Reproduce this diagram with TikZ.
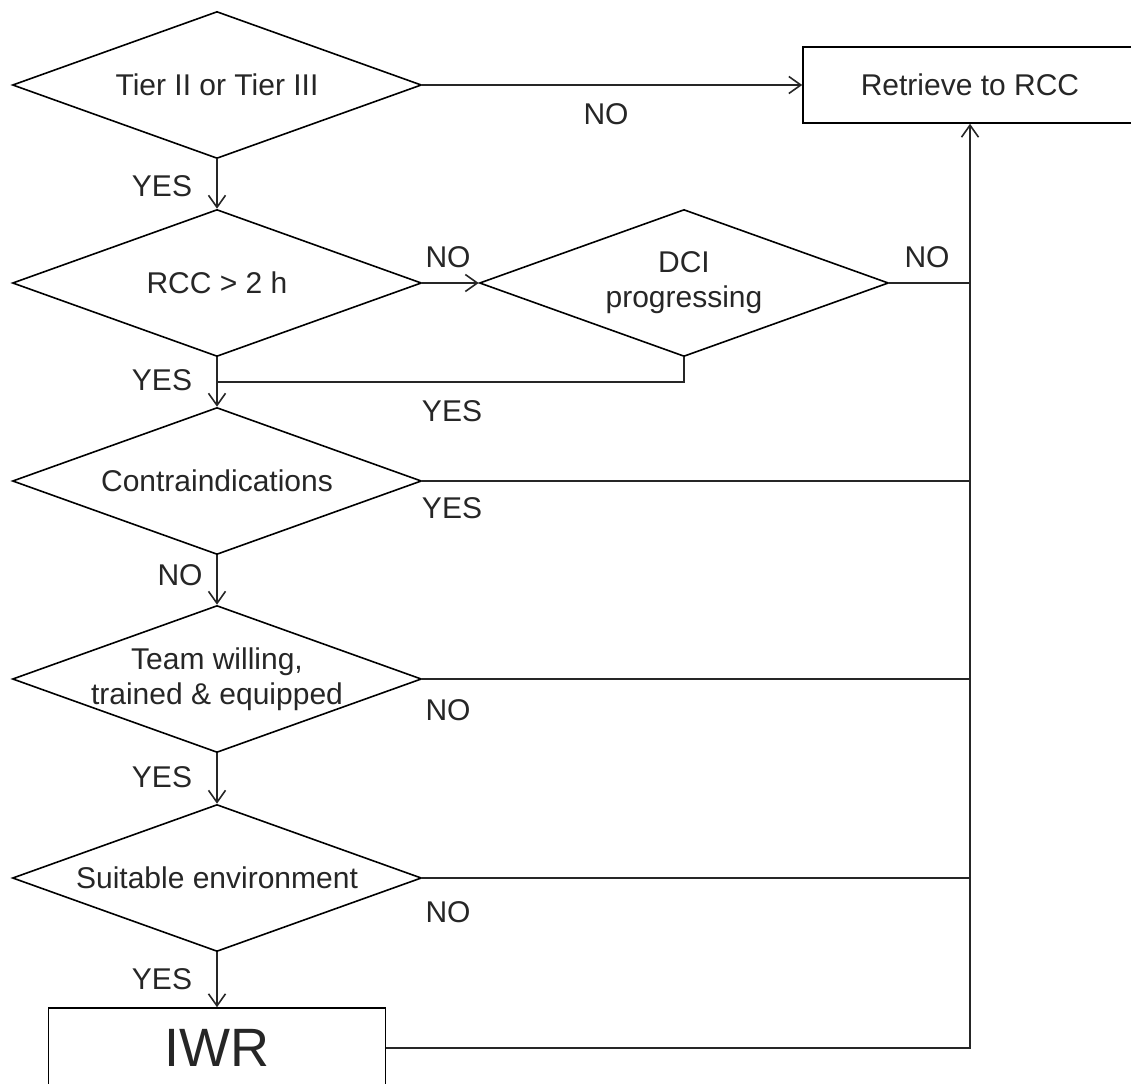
\documentclass[tikz,border=0pt]{standalone}
\usepackage{fontspec}
\setmainfont{Liberation Sans}
\usetikzlibrary{shapes.geometric,arrows.meta}
\begin{document}
\begin{tikzpicture}[x=1pt,y=-1pt,
  every node/.style={font=\fontsize{30}{35}\selectfont, text=black!85},
  dia/.style={draw, diamond, inner sep=0pt, aspect=2.8, minimum width=409pt, minimum height=147pt, align=center, line width=1.6pt},
  procbox/.style={draw, rectangle, inner sep=0pt, line width=1.6pt, align=center},
  conn/.style={line width=1.6pt, draw=black!85},
  arr/.style={conn, -{Straight Barb[length=12pt,width=17pt,line width=1.6pt]}},
  lab/.style={inner sep=0pt}
]
\useasboundingbox (0,0) rectangle (1131,1083);
\clip (0,0) rectangle (1131,1083);

% decision and process nodes
\node[dia] (d1) at (217,85) {Tier II or Tier III};
\node[procbox, minimum width=334pt, minimum height=76pt] (rcc) at (970,85) {Retrieve to RCC};
\node[dia] (d2) at (217,283) {RCC > 2 h};
\node[dia] (dci) at (684,283) {DCI\\progressing};
\node[dia] (d3) at (217,481) {Contraindications};
\node[dia] (d4) at (217,679) {\makebox[0pt]{Team willing,}\\\makebox[0pt]{trained \& equipped}};
\node[dia] (d5) at (217,878) {Suitable environment};
\node[procbox, minimum width=337pt, minimum height=80pt, font=\fontsize{54}{60}\selectfont] (iwr) at (217,1048) {IWR};

% helper coordinates
\coordinate (j) at (217,382);
\coordinate (tb) at (970,1048);

% main flow
\draw[arr] (d1.east) -- (rcc.west);
\draw[arr] (d1.south) -- (d2.north);
\draw[arr] (d2.east) -- (dci.west);
\draw[arr] (d2.south) -- (d3.north);
\draw[conn] (dci.south) |- (j);
\draw[arr] (d3.south) -- (d4.north);
\draw[arr] (d4.south) -- (d5.north);
\draw[arr] (d5.south) -- (iwr.north);

% trunk back to RCC
\draw[arr] (iwr.east) -- (tb) -- (rcc.south);
\draw[conn] (dci.east) -- (dci.east -| tb);
\draw[conn] (d3.east) -- (d3.east -| tb);
\draw[conn] (d4.east) -- (d4.east -| tb);
\draw[conn] (d5.east) -- (d5.east -| tb);

% edge labels
\node[lab] (l1) at (606,114) {NO};
\node[lab] (l2) at (162,186) {YES};
\node[lab] (l3) at (448,257) {NO};
\node[lab] (l4) at (927,257) {NO};
\node[lab] (l5) at (162,380) {YES};
\node[lab] (l6) at (452,411) {YES};
\node[lab] (l7) at (452,508) {YES};
\node[lab] (l8) at (180,575) {NO};
\node[lab] (l9) at (448,710) {NO};
\node[lab] (l10) at (162,777) {YES};
\node[lab] (l11) at (448,912) {NO};
\node[lab] (l12) at (162,979) {YES};
\end{tikzpicture}
\end{document}
